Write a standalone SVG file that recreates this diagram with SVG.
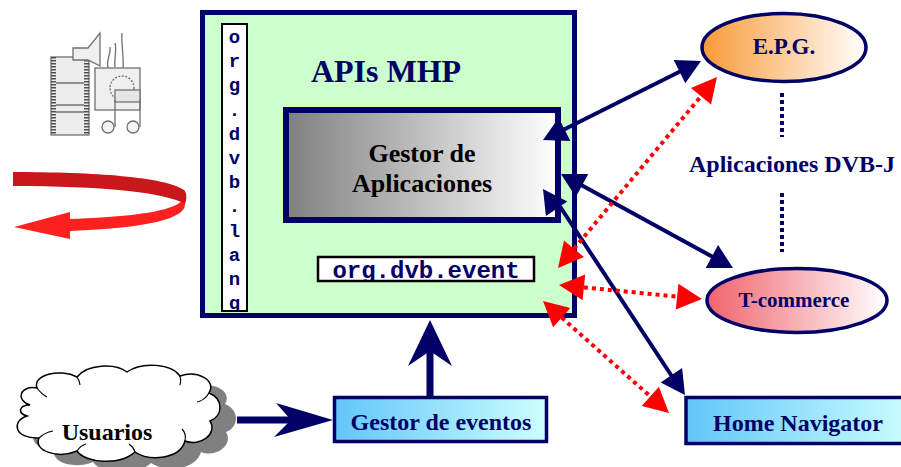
<svg xmlns="http://www.w3.org/2000/svg" width="901" height="467" viewBox="0 0 901 467">
  <defs>
    <linearGradient id="gGray" x1="0" y1="0" x2="1" y2="0">
      <stop offset="0" stop-color="#808080"/>
      <stop offset="1" stop-color="#FFFFFF"/>
    </linearGradient>
    <linearGradient id="gOrange" x1="0" y1="0" x2="1" y2="0">
      <stop offset="0" stop-color="#F99A38"/>
      <stop offset="1" stop-color="#FFFFFF"/>
    </linearGradient>
    <linearGradient id="gPink" x1="0" y1="0" x2="1" y2="0">
      <stop offset="0" stop-color="#F0646C"/>
      <stop offset="1" stop-color="#FFFFFF"/>
    </linearGradient>
    <linearGradient id="gBlue" x1="0" y1="0" x2="1" y2="0">
      <stop offset="0" stop-color="#62C6F8"/>
      <stop offset="1" stop-color="#CCFFFF"/>
    </linearGradient>
    <clipPath id="clipEvent">
      <rect x="319" y="258" width="214" height="22"/>
    </clipPath>
    <clipPath id="clipLang">
      <rect x="223" y="25" width="23" height="285"/>
    </clipPath>
    <filter id="soft" x="-10%" y="-10%" width="120%" height="120%">
      <feGaussianBlur stdDeviation="0.6"/>
    </filter>
  </defs>
  <style>
    .serif { font-family: "Liberation Serif", "Times New Roman", serif; font-weight: bold; }
    .mono { font-family: "Liberation Mono", "Courier New", monospace; font-weight: bold; fill: #000066; }
    .navy { fill: #000066; }
    .nline { stroke: #000066; stroke-width: 4; fill: none; }
    .rdot { stroke: #FF0000; stroke-width: 4; stroke-dasharray: 4 4; fill: none; }
    .rhead { fill: #FF0000; }
    .nhead { fill: #000066; }
  </style>
  <rect width="901" height="467" fill="#FFFFFF"/>

  <!-- multimedia icon -->
  <g id="media-icon" filter="url(#soft)" stroke="#707070" stroke-width="1.3">
    <rect x="51" y="57" width="38" height="78" fill="#ececec"/>
    <path d="M53.5,57 V135 M86.5,57 V135" stroke="#505050" stroke-width="5" stroke-dasharray="1.5 1.5" fill="none"/>
    <path d="M56,83 H84 M56,105 H84 M56,112 H84" fill="none"/>
    <path d="M73,48 H88 L100,33 V66 L88,60 H73 Z" fill="#efefef"/>
    <path d="M108,68 C106,60 111,54 110,47 M115,67 C114,58 117,50 115,43 M123,68 C124,56 121,44 122,33" fill="none"/>
    <rect x="95" y="68" width="45" height="42" fill="#efefef"/>
    <circle cx="122" cy="88" r="12" fill="none" stroke-dasharray="2 1.5"/>
    <rect x="115" y="90" width="25" height="12" fill="#e6e6e6"/>
    <path d="M115,100 V127 M140,100 V127" fill="none"/>
    <circle cx="108" cy="127" r="6" fill="#f4f4f4"/>
    <circle cx="133" cy="127" r="6" fill="#f4f4f4"/>
  </g>

  <!-- red rotation swoosh -->
  <g id="rotation-arrow">
    <path d="M184,193 C188,206 160,216 70,219 L70,212 L14,227 L70,239 L70,231 C150,228 186,218 185,204 Z" fill="#FF2020"/>
    <path d="M13,172 C95,172 165,177 184,190 C187,193 187,199 185,204 C165,192 100,186 13,186 Z" fill="#C8181C"/>
  </g>

  <!-- MHP API platform -->
  <g id="apis-mhp">
    <rect x="202.5" y="12.5" width="372" height="303" fill="#CCFFCC" stroke="#000066" stroke-width="5"/>
    <text x="386" y="82" class="serif navy" font-size="32" text-anchor="middle">APIs MHP</text>
  </g>

  <g id="org-dvb-lang">
    <rect x="222" y="24" width="25" height="287" fill="#FFFFFF" stroke="#000000" stroke-width="2"/>
    <g clip-path="url(#clipLang)" class="mono" font-size="19" text-anchor="middle">
      <text x="234.5" y="43">o</text>
      <text x="234.5" y="67">r</text>
      <text x="234.5" y="91">g</text>
      <text x="234.5" y="116">.</text>
      <text x="234.5" y="140">d</text>
      <text x="234.5" y="164">v</text>
      <text x="234.5" y="188">b</text>
      <text x="234.5" y="212">.</text>
      <text x="234.5" y="237">l</text>
      <text x="234.5" y="261">a</text>
      <text x="234.5" y="285">n</text>
      <text x="234.5" y="309">g</text>
    </g>
  </g>

  <g id="gestor-aplicaciones">
    <rect x="286" y="110" width="272" height="110" fill="url(#gGray)" stroke="#000066" stroke-width="6"/>
    <text x="422" y="162" class="serif" font-size="26" fill="#000000" text-anchor="middle">Gestor de</text>
    <text x="422" y="192" class="serif" font-size="26" fill="#000000" text-anchor="middle">Aplicaciones</text>
  </g>

  <g id="org-dvb-event">
    <rect x="318" y="257" width="216" height="24" fill="#FFFFFF" stroke="#000000" stroke-width="2.5"/>
    <text x="426" y="278" class="mono" font-size="24" text-anchor="middle" clip-path="url(#clipEvent)">org.dvb.event</text>
  </g>

  <!-- DVB-J applications -->
  <g id="epg">
    <ellipse cx="784" cy="47.5" rx="82" ry="34" fill="url(#gOrange)" stroke="#000066" stroke-width="3.5"/>
    <text x="784" y="54" class="serif navy" font-size="23" text-anchor="middle">E.P.G.</text>
  </g>

  <g id="aplicaciones-dvbj">
    <path d="M782,93 V137 M782,193 V252" stroke="#000066" stroke-width="4" stroke-dasharray="4 3" fill="none"/>
    <text x="792" y="172" class="serif navy" font-size="24" text-anchor="middle">Aplicaciones DVB-J</text>
  </g>

  <g id="t-commerce">
    <ellipse cx="797" cy="300.5" rx="90" ry="32" fill="url(#gPink)" stroke="#000066" stroke-width="3.5"/>
    <text x="794" y="307" class="serif navy" font-size="21" text-anchor="middle">T-commerce</text>
  </g>

  <g id="home-navigator">
    <rect x="686" y="397.5" width="230" height="46" fill="url(#gBlue)" stroke="#000066" stroke-width="3.5"/>
    <text x="798" y="431" class="serif navy" font-size="24" text-anchor="middle">Home Navigator</text>
  </g>

  <g id="gestor-eventos">
    <rect x="334.5" y="397.5" width="212" height="44" fill="url(#gBlue)" stroke="#000066" stroke-width="3.5"/>
    <text x="441" y="430" class="serif navy" font-size="24" text-anchor="middle">Gestor de eventos</text>
  </g>

  <g id="usuarios">
    <path transform="translate(16,11)" fill="#808080" d="M30,405 C15,400 20,385 37,388 C32,375 60,368 77,377 C87,364 115,363 127,372 C142,361 172,364 180,376 C197,370 217,380 209,393 C224,399 223,416 210,421 C218,434 200,447 185,441 C180,459 150,462 135,452 C120,466 85,463 77,451 C58,459 33,451 39,438 C14,439 11,421 27,416 C17,413 19,405 30,405 Z"/>
    <path fill="#FFFFFF" stroke="#000000" stroke-width="1.5" d="M30,405 C15,400 20,385 37,388 C32,375 60,368 77,377 C87,364 115,363 127,372 C142,361 172,364 180,376 C197,370 217,380 209,393 C224,399 223,416 210,421 C218,434 200,447 185,441 C180,459 150,462 135,452 C120,466 85,463 77,451 C58,459 33,451 39,438 C14,439 11,421 27,416 C17,413 19,405 30,405 Z"/>
    <path fill="none" stroke="#000000" stroke-width="1.2" d="M37,388 C40,392 43,395 47,397 M77,377 C79,380 80,382 80,385 M180,376 C181,379 181,382 180,385 M209,393 C206,398 202,401 197,402 M185,441 C186,436 185,432 182,429 M135,452 C134,449 132,446 129,444 M77,451 C79,448 82,445 86,444 M39,438 C43,434 48,432 53,431"/>
    <text x="107" y="440" class="serif" font-size="24" fill="#000000" text-anchor="middle">Usuarios</text>
  </g>

  <!-- connectors -->
  <g id="connectors">
    <!-- Gestor de Aplicaciones <-> E.P.G. -->
    <line class="nline" x1="562" y1="130.5" x2="682" y2="70.5"/>
    <polygon class="nhead" points="701,61 673.7,60.1 685.3,83.3"/>
    <polygon class="nhead" points="543,140 558.7,117.7 570.3,140.9"/>
    <!-- Gestor de Aplicaciones <-> T-commerce -->
    <line class="nline" x1="578" y1="183.3" x2="716" y2="258.7"/>
    <polygon class="nhead" points="733,268 705.7,267.9 718.1,245.1"/>
    <polygon class="nhead" points="561,174 575.8,196.9 588.3,174.1"/>
    <!-- Gestor de Aplicaciones <-> Home Navigator -->
    <line class="nline" x1="559" y1="205" x2="675" y2="381"/>
    <polygon class="nhead" points="685,395 660.7,382.6 682.1,367.9"/>
    <polygon class="nhead" points="543,189 545.9,216.1 567.3,201.4"/>

    <!-- org.dvb.event <-> applications (dotted) -->
    <line class="rdot" x1="574" y1="248.8" x2="701" y2="96.2"/>
    <polygon class="rhead" points="717,77 691,87.9 711,104.5"/>
    <polygon class="rhead" points="558,268 564,240.5 584,257.1"/>
    <line class="rdot" x1="583.9" y1="287.4" x2="677.1" y2="296.6"/>
    <polygon class="rhead" points="702,299 678.4,283.7 675.8,309.5"/>
    <polygon class="rhead" points="559,285 585.2,274.5 582.6,300.3"/>
    <line class="rdot" x1="561.7" y1="317.6" x2="650.3" y2="396.4"/>
    <polygon class="rhead" points="669,413 658.9,386.7 641.7,406.1"/>
    <polygon class="rhead" points="543,301 570.3,307.9 553.1,327.3"/>

    <!-- Usuarios -> Gestor de eventos -->
    <line x1="237" y1="420" x2="295" y2="420" stroke="#000066" stroke-width="7"/>
    <polygon class="nhead" points="333,420 276,403 291,420 274,437"/>
    <!-- Gestor de eventos -> APIs MHP -->
    <line x1="430" y1="397" x2="430" y2="350" stroke="#000066" stroke-width="7"/>
    <polygon class="nhead" points="430,320 452,366 430,351 408,366"/>
  </g>
</svg>
